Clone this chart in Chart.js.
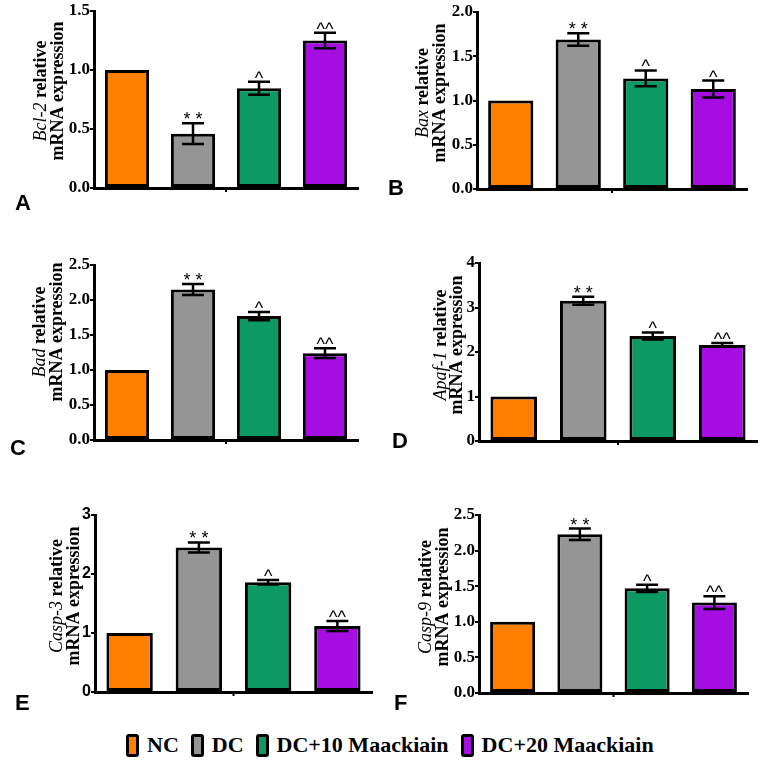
<!DOCTYPE html>
<html><head><meta charset="utf-8">
<script src="https://cdn.jsdelivr.net/npm/chart.js@4.4.1/dist/chart.umd.min.js"></script>
<style>
body{margin:0;background:#fff;width:763px;height:764px;position:relative;overflow:hidden}
canvas{position:absolute}
.lbl{position:absolute;font:bold 22px "Liberation Sans",Arial,sans-serif;color:#000;line-height:22px}
#legend{position:absolute;left:126px;top:732px;height:26px;display:flex;align-items:center;font:bold 22px "Liberation Serif","Times New Roman",serif;white-space:nowrap;color:#000}
.sw{box-sizing:border-box;width:13px;height:23px;border:3px solid #000;border-radius:3px;margin-right:8px}
.it{display:flex;align-items:center;margin-right:12px}
</style></head><body>
<div id="legend"></div>
<script>
const categories = ['NC', 'DC', 'DC+10 Maackiain', 'DC+20 Maackiain'];
const colors = ['#FF7F00', '#959595', '#0D9963', '#A50DE0'];

const bcl2 = [1.0, 0.46, 0.845, 1.25];
const bcl2Err = [0, 0.088, 0.055, 0.065];
const bax = [1.0, 1.69, 1.25, 1.13];
const baxErr = [0, 0.07, 0.09, 0.095];
const bad = [1.0, 2.15, 1.77, 1.24];
const badErr = [0, 0.08, 0.06, 0.07];
const apaf1 = [1.0, 3.15, 2.36, 2.16];
const apaf1Err = [0, 0.09, 0.08, 0.04];
const casp3 = [1.0, 2.45, 1.86, 1.12];
const casp3Err = [0, 0.085, 0.04, 0.085];
const casp9 = [1.0, 2.23, 1.47, 1.27];
const casp9Err = [0, 0.08, 0.05, 0.09];

const marksA = ['', '* *', '^', '^^'];
const marksB = ['', '* *', '^', '^'];
const marksC = ['', '* *', '^', '^^'];
const marksD = ['', '* *', '^', '^^'];
const marksE = ['', '* *', '^', '^^'];
const marksF = ['', '* *', '^', '^^'];

const SERIF = '"Liberation Serif","Times New Roman",serif';
const SANS = '"Liberation Sans",Arial,sans-serif';

const panels = [
  {id:'A', gene:'Bcl-2', values:bcl2, errors:bcl2Err, marks:marksA, max:1.5, step:0.5, dec:1, tickFamily:SERIF,
   area:{l:94,r:358,t:11,b:188}, x0:0, w:380, title:{x1:41,x2:58,cy:91}, letter:{x:15,y:192}},
  {id:'B', gene:'Bax', values:bax, errors:baxErr, marks:marksB, max:2.0, step:0.5, dec:1, tickFamily:SERIF,
   area:{l:477,r:747,t:12,b:189}, x0:380, w:383, title:{x1:423,x2:440,cy:93}, letter:{x:388,y:177}},
  {id:'C', gene:'Bad', values:bad, errors:badErr, marks:marksC, max:2.5, step:0.5, dec:1, tickFamily:SERIF,
   area:{l:94,r:358,t:265,b:440}, x0:0, w:380, title:{x1:40,x2:57,cy:332}, letter:{x:10,y:437}},
  {id:'D', gene:'Apaf-1', values:apaf1, errors:apaf1Err, marks:marksD, max:4, step:1, dec:0, tickFamily:SERIF,
   area:{l:479,r:757,t:263,b:441}, x0:380, w:383, title:{x1:441,x2:457,cy:345}, letter:{x:392,y:430}},
  {id:'E', gene:'Casp-3', values:casp3, errors:casp3Err, marks:marksE, max:3, step:1, dec:0, tickFamily:SANS,
   area:{l:95,r:372,t:515,b:692}, x0:0, w:380, title:{x1:57,x2:74,cy:596}, letter:{x:15,y:692}},
  {id:'F', gene:'Casp-9', values:casp9, errors:casp9Err, marks:marksF, max:2.5, step:0.5, dec:1, tickFamily:SERIF,
   area:{l:479,r:748,t:515,b:693}, x0:380, w:383, title:{x1:426,x2:443,cy:597}, letter:{x:394,y:692}}
];

const lg = document.getElementById('legend');
categories.forEach((c, i) => {
  const it = document.createElement('div'); it.className = 'it';
  const sw = document.createElement('div'); sw.className = 'sw'; sw.style.background = colors[i];
  const tx = document.createElement('span'); tx.textContent = c;
  it.appendChild(sw); it.appendChild(tx); lg.appendChild(it);
});

function overlay(p, y0) {
  return {
    id: 'ov' + p.id,
    afterDatasetsDraw(chart) {
      const ctx = chart.ctx, xs = chart.scales.x, ys = chart.scales.y;
      const ca = chart.chartArea;
      ctx.save();
      ctx.strokeStyle = '#000'; ctx.fillStyle = '#000'; ctx.lineWidth = 2.5;
      p.values.forEach((v, i) => {
        const cx = xs.getPixelForValue(i);
        const e = p.errors[i];
        const yTop = ys.getPixelForValue(v + e), yBot = ys.getPixelForValue(v - e);
        if (e > 0) {
          ctx.beginPath();
          ctx.moveTo(cx, yTop); ctx.lineTo(cx, yBot);
          ctx.moveTo(cx - 11, yTop); ctx.lineTo(cx + 11, yTop);
          ctx.moveTo(cx - 11, yBot); ctx.lineTo(cx + 11, yBot);
          ctx.stroke();
        }
        const m = p.marks[i];
        if (m) {
          ctx.font = '18px ' + SANS;
          ctx.textAlign = 'center'; ctx.textBaseline = 'alphabetic';
          ctx.fillText(m, cx, yTop + 2);
        }
      });
      const mx = (ca.left + ca.right) / 2;
      ctx.lineWidth = 2;
      ctx.beginPath(); ctx.moveTo(mx, ca.bottom); ctx.lineTo(mx, ca.bottom + 4); ctx.stroke();
      ctx.restore();
    },
    afterDraw(chart) {
      const ctx = chart.ctx;
      ctx.save();
      ctx.fillStyle = '#000';
      ctx.textBaseline = 'middle'; ctx.textAlign = 'left';
      const fIt = 'italic 18px ' + SERIF, fB = 'bold 18px ' + SERIF;
      ctx.save();
      ctx.translate(p.title.x1 - p.x0, p.title.cy - y0);
      ctx.rotate(-Math.PI / 2);
      ctx.font = fIt; const w1 = ctx.measureText(p.gene).width;
      ctx.font = fB; const w2 = ctx.measureText(' relative').width;
      const sx = -(w1 + w2) / 2;
      ctx.font = fIt; ctx.fillText(p.gene, sx, 0);
      ctx.font = fB; ctx.fillText(' relative', sx + w1, 0);
      ctx.restore();
      ctx.save();
      ctx.translate(p.title.x2 - p.x0, p.title.cy - y0);
      ctx.rotate(-Math.PI / 2);
      ctx.font = fB; ctx.textAlign = 'center';
      ctx.fillText('mRNA expression', 0, 0);
      ctx.restore();
      ctx.restore();
    }
  };
}

function build() {
  panels.forEach(p => {
    const padTop = 20, padBot = 30;
    const y0 = p.area.t - padTop;
    const h = (p.area.b - y0) + padBot;
    const cv = document.createElement('canvas');
    cv.width = p.w; cv.height = h;
    cv.style.left = p.x0 + 'px'; cv.style.top = y0 + 'px';
    cv.style.width = p.w + 'px'; cv.style.height = h + 'px';
    document.body.appendChild(cv);

    const lb = document.createElement('div');
    lb.className = 'lbl'; lb.textContent = p.id;
    lb.style.left = p.letter.x + 'px'; lb.style.top = p.letter.y + 'px';
    document.body.appendChild(lb);

    new Chart(cv, {
      type: 'bar',
      data: {
        labels: categories,
        datasets: [{
          data: p.values,
          backgroundColor: colors,
          borderColor: '#000',
          borderWidth: 3,
          borderSkipped: false,
          barPercentage: 0.67,
          categoryPercentage: 1.0
        }]
      },
      options: {
        responsive: false,
        animation: false,
        devicePixelRatio: 1,
        layout: { padding: { left: 0, top: padTop, bottom: padBot, right: p.x0 + p.w - p.area.r } },
        plugins: { legend: { display: false }, tooltip: { enabled: false } },
        scales: {
          x: {
            grid: { display: false },
            ticks: { display: false },
            border: { display: true, color: '#000', width: 3 },
            afterFit: s => { s.height = 0; }
          },
          y: {
            min: 0, max: p.max,
            ticks: {
              stepSize: p.step, color: '#000', padding: 0,
              font: { family: p.tickFamily, weight: 'bold', size: p.tickFamily === SANS ? 16 : 17 },
              callback: v => Number(v).toFixed(p.dec)
            },
            grid: { display: true, drawOnChartArea: false, drawTicks: true, tickLength: 4, color: '#000', lineWidth: 2 },
            border: { display: true, color: '#000', width: 3 },
            afterFit: s => { s.width = p.area.l - p.x0; }
          }
        }
      },
      plugins: [overlay(p, y0)]
    });
  });
}

const fontLoads = [
  'bold 17px "Liberation Serif"', 'bold 18px "Liberation Serif"', 'italic 18px "Liberation Serif"',
  'bold 16px "Liberation Sans"', '18px "Liberation Sans"'
].map(f => document.fonts.load(f).catch(() => null));
Promise.all(fontLoads).then(build, build);
</script>
</body></html>
